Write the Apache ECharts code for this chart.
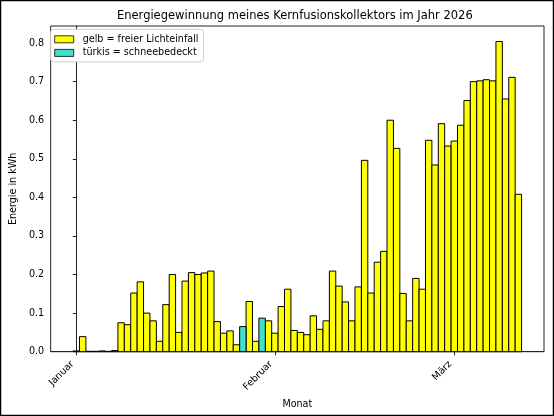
<!DOCTYPE html>
<html>
<head>
<meta charset="utf-8">
<script src="https://cdn.jsdelivr.net/npm/echarts@6/dist/echarts.min.js"></script>
<style>
  html, body { margin: 0; padding: 0; background: #fff; }
  #main { width: 554px; height: 416px; }
</style>
</head>
<body>
<div id="main"></div>
<script>
// Tageswerte ab 1. Januar 2026 (kWh)
const startDate = '2026-01-01';
const energy = [
  0.002, 0.039, 0.001, 0.001, 0.002, 0.001, 0.003, 0.075, 0.070, 0.152,
  0.181, 0.100, 0.080, 0.027, 0.122, 0.200, 0.050, 0.183, 0.205, 0.200,
  0.204, 0.209, 0.078, 0.048, 0.054, 0.018, 0.065, 0.130, 0.027, 0.087,
  0.080,
  0.048, 0.117, 0.162, 0.055, 0.050, 0.044, 0.093, 0.058, 0.080, 0.209,
  0.170, 0.129, 0.080, 0.168, 0.496, 0.152, 0.232, 0.260, 0.600, 0.527,
  0.151, 0.080, 0.190, 0.162, 0.548, 0.484, 0.591, 0.533,
  0.546, 0.587, 0.651, 0.700, 0.702, 0.705, 0.702, 0.804, 0.655, 0.711,
  0.408
];
const snowDays = ['2026-01-07', '2026-01-27', '2026-01-30'];
const monthLabels = ['Januar', 'Februar', 'März'];
const monthStarts = ['2026-01-01', '2026-02-01', '2026-03-01'];
const yTicks = [0, 0.1, 0.2, 0.3, 0.4, 0.5, 0.6, 0.7, 0.8];

const DAY = 24 * 3600 * 1000;
const t0 = Date.parse(startDate);
const dayIndex = d => Math.round((Date.parse(d) - t0) / DAY);
const snowIdx = snowDays.map(dayIndex);
const monthIdx = monthStarts.map(dayIndex);

const clear = [], snow = [];
energy.forEach((v, i) => {
  (snowIdx.indexOf(i) >= 0 ? snow : clear).push([i, v]);
});

// wie matplotlib: Balkenbreite 1 Tag, 5 % Rand links/rechts
const span = energy.length;
const xMin = -0.5 - 0.05 * span;
const xMax = energy.length - 0.5 + 0.05 * span;
const yMax = Math.max(...energy) * 1.05;

const W = 554, H = 416;
const grid = { left: 45.7, right: 10, top: 26, bottom: 64.3 };
const plotW = W - grid.left - grid.right;

const font = 'DejaVu Sans';
const chart = echarts.init(document.getElementById('main'), null, { renderer: 'canvas', width: W, height: H });

// Balken über die Achsen-Skalen zeichnen (Breite = 1 Tag)
const dayBar = color => (params, api) => {
  const x = api.value(0), y = api.value(1);
  const p0 = api.coord([x - 0.5, y]);
  const p1 = api.coord([x + 0.5, 0]);
  return {
    type: 'rect',
    shape: { x: p0[0], y: p0[1], width: p1[0] - p0[0], height: p1[1] - p0[1] },
    style: { fill: color, stroke: '#000', lineWidth: 1 }
  };
};

chart.setOption({
  animation: false,
  backgroundColor: '#fff',
  textStyle: { fontFamily: font },
  grid: Object.assign({ show: true, borderColor: '#222', borderWidth: 1, containLabel: false }, grid),
  legend: {
    orient: 'vertical',
    left: 50.7, top: 29.3,
    padding: [4.5, 5, 3.5, 3.6],
    itemGap: 2.6,
    itemWidth: 19, itemHeight: 7,
    icon: 'rect',
    backgroundColor: '#fff',
    borderColor: '#d0d0d0', borderWidth: 1, borderRadius: 3,
    itemStyle: { borderColor: '#000', borderWidth: 0.8 },
    textStyle: { fontFamily: font, fontSize: 9.6, color: '#000', lineHeight: 11, padding: [0, 0, 0, 4] },
    data: ['gelb = freier Lichteinfall', 'türkis = schneebedeckt']
  },
  xAxis: {
    type: 'value',
    min: xMin, max: xMax,
    name: 'Monat', nameLocation: 'middle', nameGap: 44,
    nameTextStyle: { fontFamily: font, fontSize: 9.6, color: '#000' },
    axisLine: { show: true, lineStyle: { color: '#222', width: 1 } },
    axisTick: { show: true, length: 3.5, lineStyle: { color: '#222' }, customValues: monthIdx },
    axisLabel: {
      customValues: monthIdx, rotate: 45, margin: 7,
      padding: [0, 5.5, 0, 0],
      fontFamily: font, fontSize: 9.6, color: '#000',
      formatter: v => monthLabels[monthIdx.indexOf(Math.round(v))] || ''
    },
    splitLine: { show: false }
  },
  yAxis: {
    type: 'value',
    min: 0, max: yMax,
    name: 'Energie in kWh', nameLocation: 'middle', nameGap: 26,
    nameTextStyle: { fontFamily: font, fontSize: 9.6, color: '#000' },
    axisLine: { show: true, lineStyle: { color: '#222', width: 1 } },
    axisTick: { show: true, length: 3.5, lineStyle: { color: '#222' }, customValues: yTicks },
    axisLabel: {
      customValues: yTicks, margin: 6.5,
      fontFamily: font, fontSize: 9.6, color: '#000',
      formatter: v => v.toFixed(1)
    },
    splitLine: { show: false }
  },
  series: [
    {
      name: 'gelb = freier Lichteinfall', type: 'custom',
      data: clear, encode: { x: 0, y: 1 },
      renderItem: dayBar('#ffff00'),
      itemStyle: { color: '#ffff00', borderColor: '#000', borderWidth: 1 }
    },
    {
      name: 'türkis = schneebedeckt', type: 'custom',
      data: snow, encode: { x: 0, y: 1 },
      renderItem: dayBar('#40e0d0'),
      itemStyle: { color: '#40e0d0', borderColor: '#000', borderWidth: 1 }
    }
  ],
  graphic: [
    {
      type: 'text', x: grid.left + plotW / 2, y: 16,
      style: {
        text: 'Energiegewinnung meines Kernfusionskollektors im Jahr 2026',
        fontFamily: font, fontSize: 11.5, fill: '#000',
        align: 'center', verticalAlign: 'middle'
      }
    },
    {
      type: 'rect', shape: { x: 0, y: 0, width: W, height: H },
      style: { fill: null, stroke: '#000', lineWidth: 2.5 }, silent: true
    }
  ]
});
</script>
</body>
</html>
